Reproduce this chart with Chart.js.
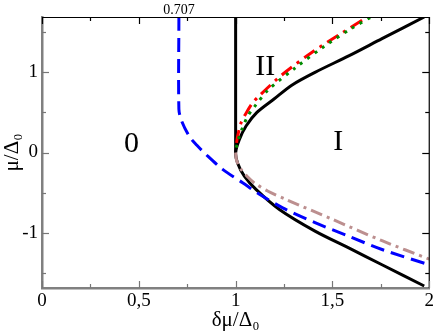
<!DOCTYPE html>
<html>
<head>
<meta charset="utf-8">
<script src="https://cdn.jsdelivr.net/npm/chart.js@4.4.1/dist/chart.umd.min.js"></script>
<style>
html,body{margin:0;padding:0;background:#fff;}
#wrap{width:436px;height:335px;}
</style>
</head>
<body>
<div id="wrap"><canvas id="c" width="436" height="335"></canvas></div>
<script>
// ---- data ----
const xTicks = [0, 0.5, 1, 1.5, 2];
const xTickLabels = ['0', '0,5', '1', '1,5', '2'];
const yTicks = [-1, 0, 1];
const topTickValue = 0.707;
const topTickLabel = '0.707';

// black solid: boundary curve (upper branch -> vertex -> lower branch)
const blackX = [1.974, 1.756, 1.584, 1.41, 1.29, 1.2, 1.11, 1.054, 1.019, 1.0, 1.01, 1.045, 1.105, 1.226, 1.41, 1.584, 1.756, 1.974];
const blackY = [1.69, 1.42, 1.205, 1.0, 0.84, 0.67, 0.50, 0.33, 0.16, 0.0, -0.13, -0.295, -0.46, -0.71, -0.98, -1.19, -1.40, -1.665];
// black vertical line
const vertX = [1.0, 1.0];
const vertY = [0.0, 1.69];
// blue dashed
const blueX = [0.707, 0.707, 0.72, 0.761, 0.80, 0.847, 0.933, 1.036, 1.123, 1.243, 1.41, 1.58, 1.756, 2.0];
const blueY = [1.69, 0.54, 0.40, 0.20, 0.09, -0.025, -0.21, -0.377, -0.52, -0.69, -0.875, -1.04, -1.21, -1.40];
// rosy brown dash-dot
const brownX = [1.0, 1.005, 1.028, 1.06, 1.097, 1.165, 1.26, 1.5, 1.756, 2.0];
const brownY = [0.0, -0.10, -0.21, -0.30, -0.38, -0.48, -0.585, -0.834, -1.10, -1.33];
// red dash-dot
const redX = [1.005, 1.01, 1.028, 1.054, 1.088, 1.119, 1.24, 1.395, 1.549, 1.68];
const redY = [0.12, 0.20, 0.37, 0.49, 0.62, 0.70, 0.97, 1.25, 1.49, 1.69];
// green dotted
const greenX = [1.003, 1.016, 1.036, 1.062, 1.097, 1.17, 1.308, 1.455, 1.6, 1.7];
const greenY = [0.06, 0.18, 0.31, 0.45, 0.57, 0.785, 1.055, 1.32, 1.55, 1.69];

// region labels
const regionText = ['0', 'II', 'I'];
const regionX = [0.462, 1.153, 1.53];
const regionY = [0.10, 1.07, 0.125];

const pts = (xs, ys) => xs.map((x, i) => ({x: x, y: ys[i]}));

const SERIF = '"Liberation Serif", "Times New Roman", serif';

const frameTicks = {
  id: 'frameTicks',
  afterDatasetsDraw(chart) {
    const ctx = chart.ctx, a = chart.chartArea;
    const xs = chart.scales.x, ys = chart.scales.y;
    ctx.save();
    // top and right frame
    ctx.strokeStyle = '#000';
    ctx.lineWidth = 1.2;
    ctx.beginPath();
    ctx.moveTo(a.left, a.top + 0.5);
    ctx.lineTo(a.right, a.top + 0.5);
    ctx.lineTo(a.right, a.bottom);
    ctx.stroke();
    // x ticks (major 0.5, minor 0.25)
    for (let v = 0; v <= 2.0001; v += 0.25) {
      const major = Math.abs(v * 2 - Math.round(v * 2)) < 1e-6;
      const len = major ? 7 : 4;
      const px = Math.round(xs.getPixelForValue(v)) + 0.5;
      ctx.lineWidth = 1.2;
      ctx.strokeStyle = '#777';
      ctx.beginPath(); ctx.moveTo(px, a.bottom); ctx.lineTo(px, a.bottom - len); ctx.stroke();
      ctx.strokeStyle = '#000';
      ctx.beginPath(); ctx.moveTo(px, a.top); ctx.lineTo(px, a.top + len); ctx.stroke();
    }
    // y ticks (major 1, minor 0.5)
    for (let v = -1.5; v <= 1.5001; v += 0.5) {
      const major = Math.abs(v - Math.round(v)) < 1e-6;
      const len = major ? 7 : 4;
      const py = Math.round(ys.getPixelForValue(v)) + 0.5;
      ctx.lineWidth = 1.2;
      ctx.strokeStyle = '#777';
      ctx.beginPath(); ctx.moveTo(a.left, py); ctx.lineTo(a.left + len, py); ctx.stroke();
      ctx.strokeStyle = '#000';
      ctx.beginPath(); ctx.moveTo(a.right, py); ctx.lineTo(a.right - len, py); ctx.stroke();
    }
    // region labels
    ctx.fillStyle = '#000';
    ctx.font = '30px ' + SERIF;
    ctx.textAlign = 'center';
    ctx.textBaseline = 'middle';
    regionText.forEach((t, i) => {
      ctx.fillText(t, xs.getPixelForValue(regionX[i]), ys.getPixelForValue(regionY[i]));
    });
    ctx.restore();
  }
};

const lineDs = (data, color, dash, width) => ({
  data: data,
  showLine: true,
  borderColor: color,
  backgroundColor: color,
  borderWidth: width,
  borderDash: dash,
  pointRadius: 0,
  pointHoverRadius: 0,
  fill: false,
  tension: 0.3
});

new Chart(document.getElementById('c'), {
  type: 'scatter',
  data: {
    datasets: [
      lineDs(pts(blueX, blueY), '#0000ff', [14, 7], 3),
      lineDs(pts(brownX, brownY), '#bc8f8f', [12, 5, 3, 5], 3),
      lineDs(pts(greenX, greenY), '#008c00', [3, 6], 3),
      lineDs(pts(redX, redY), '#ff0000', [13, 6, 3, 6], 3),
      lineDs(pts(blackX, blackY), '#000000', [], 3),
      lineDs(pts(vertX, vertY), '#000000', [], 3)
    ]
  },
  options: {
    responsive: false,
    animation: false,
    events: [],
    layout: {padding: {left: 0, right: 6, top: 0, bottom: 0}},
    plugins: {legend: {display: false}, tooltip: {enabled: false}},
    scales: {
      x: {
        type: 'linear', position: 'bottom', min: 0, max: 2,
        afterFit: s => { s.height = 47; },
        afterBuildTicks: s => { s.ticks = xTicks.map(v => ({value: v})); },
        grid: {display: false, drawTicks: false},
        border: {display: true, color: '#808080', width: 2.5},
        ticks: {
          color: '#000', padding: 2, maxRotation: 0, autoSkip: false,
          font: {family: SERIF, size: 19},
          callback: (v) => { const i = xTicks.indexOf(v); return i >= 0 ? xTickLabels[i] : ''; }
        },
        title: {display: true, text: 'δμ/Δ₀', color: '#000', font: {family: SERIF, size: 21}, padding: {top: 0, bottom: 2}}
      },
      x2: {
        type: 'linear', position: 'top', min: 0, max: 2,
        afterFit: s => { s.height = 17; },
        afterBuildTicks: s => { s.ticks = [{value: topTickValue}]; },
        grid: {display: false, drawTicks: false},
        border: {display: false},
        ticks: {color: '#000', padding: -2, autoSkip: false, maxRotation: 0,
          font: {family: SERIF, size: 14}, callback: () => topTickLabel}
      },
      y: {
        type: 'linear', position: 'left', min: -1.69, max: 1.69,
        afterFit: s => { s.width = 42; },
        afterBuildTicks: s => { s.ticks = yTicks.map(v => ({value: v})); },
        grid: {display: false, drawTicks: false},
        border: {display: true, color: '#808080', width: 2.5},
        ticks: {color: '#000', padding: 4, autoSkip: false,
          font: {family: SERIF, size: 19}},
        title: {display: true, text: 'μ/Δ₀', color: '#000', font: {family: SERIF, size: 21}, padding: {top: 0, bottom: 0}}
      }
    }
  },
  plugins: [frameTicks]
});
</script>
</body>
</html>
